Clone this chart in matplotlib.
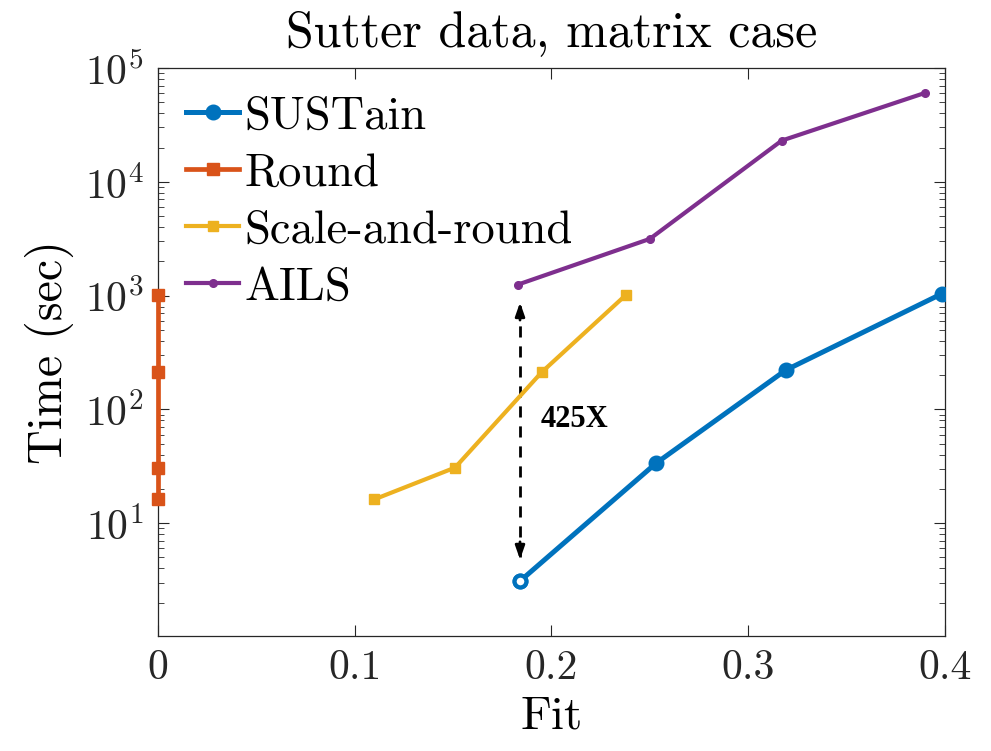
import matplotlib
matplotlib.use("Agg")
import matplotlib.pyplot as plt
from matplotlib.ticker import LogLocator, NullFormatter

plt.rcParams["font.family"] = ["cmr10", "DejaVu Serif"]
plt.rcParams["mathtext.fontset"] = "cm"
plt.rcParams["axes.formatter.use_mathtext"] = True

# ─── data ──────────────────────────────────────────────────────────
sustain_fit = [0.184, 0.253, 0.319, 0.3985]
sustain_time = [3.1, 33.5, 221, 1040]

round_fit = [0.0, 0.0, 0.0, 0.0]
round_time = [16.2, 30.8, 212, 1020]

scale_fit = [0.110, 0.151, 0.195, 0.238]
scale_time = [16.2, 30.8, 212, 1020]

ails_fit = [0.183, 0.250, 0.317, 0.390]
ails_time = [1250, 3150, 23000, 60500]

speedup_label = "425X"

# MATLAB default colour order
C_BLUE, C_ORANGE, C_YELLOW, C_PURPLE = "#0072BD", "#D95319", "#EDB120", "#7E2F8E"

fig = plt.figure(figsize=(9.91, 7.51), dpi=100)
ax = fig.add_axes([0.1594, 0.1531, 0.7942, 0.7564])

ax.plot(sustain_fit, sustain_time, "-o", color=C_BLUE, lw=3.6, ms=8.5,
        mew=3.0, mfc=C_BLUE, label="SUSTain", zorder=4)
# first point looks hollow (open MATLAB marker, line enters from one side only)
ax.plot(sustain_fit[0], sustain_time[0], "o", color=C_BLUE, ms=8.5,
        mew=3.0, mfc="white", zorder=4)
ax.plot(round_fit, round_time, "-s", color=C_ORANGE, lw=3.4, ms=9,
        label="Round", zorder=5, clip_on=False)
ax.plot(scale_fit, scale_time, "-s", color=C_YELLOW, lw=3.0, ms=6.5,
        label="Scale-and-round", zorder=3)
ax.plot(ails_fit, ails_time, "-o", color=C_PURPLE, lw=3.0, ms=5.5,
        label="AILS", zorder=3)

# dashed double arrow between AILS and SUSTain at the first point
xa = sustain_fit[0]
top, bot = 870, 4.8
ax.plot([xa, xa], [bot * 1.05, top * 0.95], color="k", lw=2, ls=(0, (4, 3.2)))
for tip, tail in ((top, top * 0.7), (bot, bot / 0.7)):
    ax.annotate("", xy=(xa, tip), xytext=(xa, tail),
                arrowprops=dict(arrowstyle="-|>,head_length=0.8,head_width=0.28",
                                color="k", lw=2, shrinkA=0, shrinkB=0))
ax.text(0.1947, 81, speedup_label, family="Liberation Serif", weight="bold",
        fontsize=22, va="center", ha="left")

ax.set_yscale("log")
ax.set_xlim(0, 0.4)
ax.set_ylim(1.02, 1e5)
ax.set_xticks([0, 0.1, 0.2, 0.3, 0.4])
ax.set_xticklabels(["0", "0.1", "0.2", "0.3", "0.4"])
ax.yaxis.set_major_locator(LogLocator(base=10, numticks=10))
ax.yaxis.set_minor_locator(LogLocator(base=10, subs=range(2, 10), numticks=10))
ax.yaxis.set_minor_formatter(NullFormatter())

ax.tick_params(which="both", direction="in", top=True, right=True,
               colors="#262626", labelcolor="#262626")
ax.tick_params(which="major", length=8, width=0.8, labelsize=30, pad=10)
ax.tick_params(which="minor", length=4, width=0.6)
for s in ax.spines.values():
    s.set_color("#262626")
    s.set_linewidth(0.9)

ax.set_xlabel("Fit", fontsize=34, labelpad=6)
ax.set_ylabel("Time (sec)", fontsize=34.5, labelpad=8)
ax.set_title("Sutter data, matrix case", fontsize=36, pad=16)

leg = ax.legend(loc="upper left", frameon=False, fontsize=33.5,
                handlelength=1.15, handletextpad=0.1, labelspacing=0.33,
                borderaxespad=0.2, bbox_to_anchor=(0.0, 1.0))

fig.savefig("out.png", dpi=100)
